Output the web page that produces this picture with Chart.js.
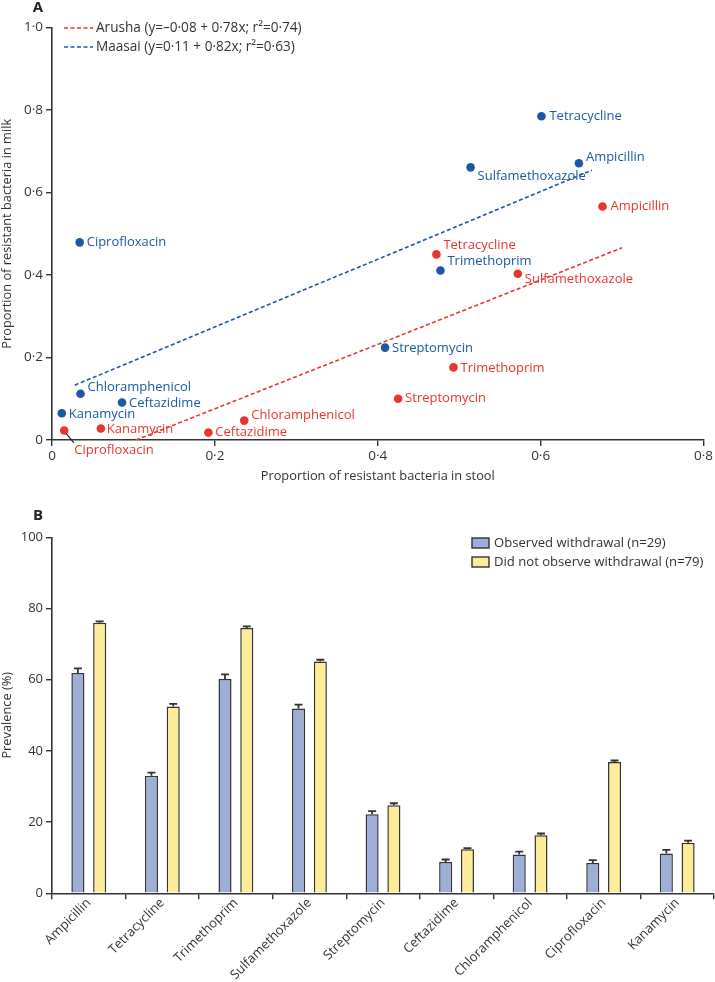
<!DOCTYPE html>
<html>
<head>
<meta charset="utf-8">
<script src="https://cdn.jsdelivr.net/npm/chart.js@4.4.1/dist/chart.umd.min.js"></script>
<style>
  body { margin: 0; background: #fff; }
  .panel { position: absolute; left: 0; width: 715px; }
  #panelA { top: 0; height: 500px; }
  #panelB { top: 500px; height: 482px; }
</style>
</head>
<body>
<div class="panel" id="panelA"><canvas id="scatter-chart"></canvas></div>
<div class="panel" id="panelB"><canvas id="bar-chart"></canvas></div>
<script>
// Antibiotics, same order in both panels
const drugs = ['Ampicillin', 'Tetracycline', 'Trimethoprim', 'Sulfamethoxazole', 'Streptomycin',
               'Ceftazidime', 'Chloramphenicol', 'Ciprofloxacin', 'Kanamycin'];

// Panel A: proportion of resistant bacteria, stool (x) vs milk (y)
const maasaiStool = [0.647, 0.601, 0.477, 0.514, 0.409, 0.086, 0.035, 0.034, 0.012];
const maasaiMilk  = [0.671, 0.785, 0.411, 0.661, 0.224, 0.091, 0.112, 0.479, 0.065];
const arushaStool = [0.676, 0.472, 0.493, 0.572, 0.425, 0.192, 0.236, 0.015, 0.060];
const arushaMilk  = [0.566, 0.450, 0.176, 0.403, 0.100, 0.018, 0.047, 0.023, 0.028];

// fitted lines, end points as drawn
const arushaFitX = [0.103, 0.700];
const arushaFitY = [0.000, 0.466];
const maasaiFitX = [0.028, 0.663];
const maasaiFitY = [0.133, 0.654];

const arushaLabel = 'Arusha (y=\u20130\u00b708 + 0\u00b778x; r\u00b2=0\u00b774)';
const maasaiLabel = 'Maasai (y=0\u00b711 + 0\u00b782x; r\u00b2=0\u00b763)';

// Panel B: prevalence (%) and upper error
const observed       = [61.9, 33.0, 60.2, 51.9, 22.2, 8.8, 10.9, 8.5, 11.2];
const observedErr    = [1.3, 0.9, 1.3, 1.1, 0.9, 0.7, 0.8, 0.8, 1.0];
const notObserved    = [76.0, 52.5, 74.5, 65.1, 24.7, 12.4, 16.3, 36.9, 14.2];
const notObservedErr = [0.4, 0.7, 0.5, 0.5, 0.6, 0.3, 0.5, 0.4, 0.6];

const BLUE = '#1c58a5';
const RED = '#e8362f';
const INK = '#333333';
const BAR_BLUE = '#9eafd7';
const BAR_YELLOW = '#feec98';
const DASH = [4, 2.5];

Chart.defaults.font.family = '"Open Sans", sans-serif';
Chart.defaults.font.size = 13;
Chart.defaults.color = INK;
Chart.defaults.animation = false;

// label offsets (px) next to each point
const maasaiOffsets = [[7, -6], [8, 0], [7, -9], [7, 9], [7, 1], [7, 1], [7, -7], [7, 0], [7, 1]];
const arushaOffsets = [[8, 0], [7, -9], [7, 1], [7, 6], [7, 0], [7, 0], [7, -5], [10, 20], [6, 1]];

const fmtDot = v => v === 0 ? '0' : v.toFixed(1).replace('.', '\u00b7');

const scatterDecor = {
    id: 'scatterDecor',
    afterDatasetsDraw(chart) {
        const ctx = chart.ctx;
        ctx.save();
        ctx.font = '13px "Open Sans"';
        ctx.textBaseline = 'middle';
        ctx.textAlign = 'left';
        [[0, maasaiOffsets, BLUE], [1, arushaOffsets, RED]].forEach(([di, offs, col]) => {
            chart.getDatasetMeta(di).data.forEach((pt, i) => {
                const [dx, dy] = offs[i];
                if (di === 1 && drugs[i] === 'Ciprofloxacin') {
                    ctx.strokeStyle = '#222';
                    ctx.lineWidth = 1.2;
                    ctx.beginPath();
                    ctx.moveTo(pt.x + 2, pt.y + 3);
                    ctx.lineTo(pt.x + 9.5, pt.y + 12);
                    ctx.stroke();
                }
                ctx.fillStyle = col;
                ctx.fillText(drugs[i], pt.x + dx, pt.y + dy);
            });
        });

        // legend
        ctx.font = '13.6px "Open Sans"';
        [[2, 28], [3, 47]].forEach(([di, y]) => {
            const ds = chart.data.datasets[di];
            ctx.strokeStyle = ds.borderColor;
            ctx.lineWidth = 1.6;
            ctx.setLineDash(DASH);
            ctx.beginPath();
            ctx.moveTo(64, y);
            ctx.lineTo(93, y);
            ctx.stroke();
            ctx.setLineDash([]);
            ctx.fillStyle = INK;
            ctx.fillText(ds.label, 96, y);
        });

        ctx.font = 'bold 15px "Open Sans"';
        ctx.fillStyle = '#222';
        ctx.textAlign = 'center';
        ctx.fillText('A', 38, 8);
        ctx.restore();
    }
};

const scatterChart = new Chart(document.getElementById('scatter-chart'), {
    type: 'scatter',
    data: {
        datasets: [
            {
                label: 'Maasai',
                data: maasaiStool.map((x, i) => ({ x, y: maasaiMilk[i] })),
                backgroundColor: BLUE,
                borderColor: BLUE,
                pointRadius: 4.3,
                pointBorderWidth: 0
            },
            {
                label: 'Arusha',
                data: arushaStool.map((x, i) => ({ x, y: arushaMilk[i] })),
                backgroundColor: RED,
                borderColor: RED,
                pointRadius: 4.3,
                pointBorderWidth: 0
            },
            {
                label: arushaLabel,
                data: arushaFitX.map((x, i) => ({ x, y: arushaFitY[i] })),
                showLine: true,
                borderColor: RED,
                borderWidth: 1.6,
                borderDash: DASH,
                pointRadius: 0
            },
            {
                label: maasaiLabel,
                data: maasaiFitX.map((x, i) => ({ x, y: maasaiFitY[i] })),
                showLine: true,
                borderColor: BLUE,
                borderWidth: 1.6,
                borderDash: DASH,
                pointRadius: 0
            }
        ]
    },
    options: {
        responsive: true,
        maintainAspectRatio: false,
        layout: { padding: { top: 27.5, right: 9.5, bottom: 0, left: 0 } },
        plugins: { legend: { display: false }, tooltip: { enabled: false } },
        scales: {
            x: {
                type: 'linear',
                min: 0,
                max: 0.8,
                afterFit: s => { s.height = 60; },
                ticks: { stepSize: 0.2, padding: 2, callback: v => fmtDot(v), font: { size: 13.5 } },
                grid: { drawOnChartArea: false, tickLength: 6, color: INK, lineWidth: 1.4 },
                border: { color: INK, width: 1.6 },
                title: { display: true, text: 'Proportion of resistant bacteria in stool',
                         font: { size: 12.8 }, padding: { top: 0, bottom: 15.5 } }
            },
            y: {
                min: 0,
                max: 1,
                afterFit: s => { s.width = 52; },
                ticks: { stepSize: 0.2, padding: 3, callback: v => fmtDot(v), font: { size: 13.5 } },
                grid: { drawOnChartArea: false, tickLength: 6, color: INK, lineWidth: 1.4 },
                border: { color: INK, width: 1.6 },
                title: { display: true, text: 'Proportion of resistant bacteria in milk',
                         font: { size: 12.8 }, padding: { top: 0, bottom: 0 } }
            }
        }
    },
    plugins: [scatterDecor]
});

// Panel B decorations: error bars, legend, panel letter
const barDecor = {
    id: 'barDecor',
    afterDatasetsDraw(chart) {
        const ctx = chart.ctx;
        const yScale = chart.scales.y;
        const errs = [observedErr, notObservedErr];
        ctx.save();
        ctx.strokeStyle = INK;
        ctx.lineWidth = 1.8;
        chart.data.datasets.forEach((ds, di) => {
            chart.getDatasetMeta(di).data.forEach((bar, i) => {
                const top = yScale.getPixelForValue(ds.data[i] + errs[di][i]);
                ctx.beginPath();
                ctx.moveTo(bar.x, bar.y);
                ctx.lineTo(bar.x, top);
                ctx.moveTo(bar.x - 4, top);
                ctx.lineTo(bar.x + 4, top);
                ctx.stroke();
            });
        });

        ctx.font = '13.1px "Open Sans"';
        ctx.textBaseline = 'middle';
        ctx.textAlign = 'left';
        chart.data.datasets.forEach((ds, di) => {
            const y = 43 + di * 19;
            ctx.fillStyle = ds.backgroundColor;
            ctx.fillRect(472, y - 5, 17, 10);
            ctx.lineWidth = 1.4;
            ctx.strokeStyle = INK;
            ctx.strokeRect(472, y - 5, 17, 10);
            ctx.fillStyle = INK;
            ctx.fillText(ds.label, 494, y);
        });

        ctx.font = 'bold 15px "Open Sans"';
        ctx.fillStyle = '#222';
        ctx.textAlign = 'center';
        ctx.fillText('B', 38, 16);
        ctx.restore();
    }
};

const barChart = new Chart(document.getElementById('bar-chart'), {
    type: 'bar',
    data: {
        labels: drugs,
        datasets: [
            {
                label: 'Observed withdrawal (n=29)',
                data: observed,
                backgroundColor: BAR_BLUE,
                borderColor: INK,
                borderWidth: 1.5,
                categoryPercentage: 0.592,
                barPercentage: 0.6
            },
            {
                label: 'Did not observe withdrawal (n=79)',
                data: notObserved,
                backgroundColor: BAR_YELLOW,
                borderColor: INK,
                borderWidth: 1.5,
                categoryPercentage: 0.592,
                barPercentage: 0.6
            }
        ]
    },
    options: {
        responsive: true,
        maintainAspectRatio: false,
        layout: { padding: { top: 37.3, right: 1, bottom: 0, left: 0 } },
        plugins: { legend: { display: false }, tooltip: { enabled: false } },
        scales: {
            x: {
                afterFit: s => { s.height = 88.7; },
                ticks: { minRotation: 45, maxRotation: 45, padding: -4, font: { size: 13 } },
                grid: { drawOnChartArea: false, tickLength: 6, color: INK, lineWidth: 1.4 },
                border: { color: INK, width: 1.6 }
            },
            y: {
                min: 0,
                max: 100,
                afterFit: s => { s.width = 52; },
                ticks: { stepSize: 20, padding: 3, font: { size: 13 } },
                grid: { drawOnChartArea: false, tickLength: 6, color: INK, lineWidth: 1.4 },
                border: { color: INK, width: 1.6 },
                title: { display: true, text: 'Prevalence (%)', font: { size: 12.8 }, padding: { top: 0, bottom: 0 } }
            }
        }
    },
    plugins: [barDecor]
});
</script>
</body>
</html>
